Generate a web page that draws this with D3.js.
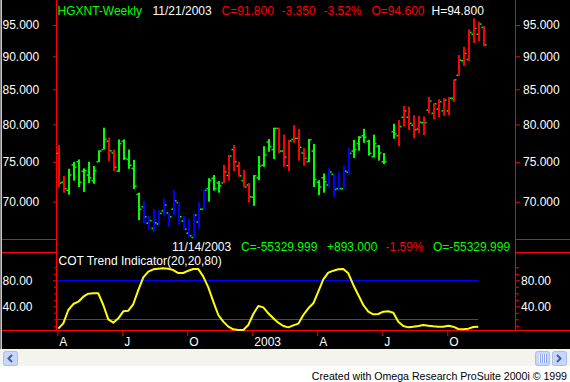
<!DOCTYPE html>
<html><head><meta charset="utf-8">
<script src="https://cdn.jsdelivr.net/npm/d3@7"></script>
<style>
html,body{margin:0;padding:0;background:#000;overflow:hidden}
svg{display:block}
text{font-family:"Liberation Sans",Arial,sans-serif}
</style>
</head><body>
<svg id="c" width="570" height="382"></svg>
<script>
// ---------------- DATA ----------------
const symbol = "HGXNT-Weekly";
const firstWeek = "2002-04-05";
const lastWeek = "2003-11-21";
// weekly OHLC (null = no bar that week)
const openP  = [76.1,72.4,71.4,74.6,75.0,73.8,73.3,72.6,75.0,76.6,77.7,76.15,73.8,77.7,75.3,74.15,70.9,69.4,67.45,66.85,67.35,68.9,68.65,69.1,69.9,67.7,66.3,65.8,67.6,69.1,71.6,72.9,72.3,72.3,73.25,76.6,74.45,72.6,72.05,70.55,72.95,74.55,77.6,76.6,79.45,76.4,74.5,77.95,78.1,76.15,75.0,76.4,72.4,72.95,72.05,73.4,71.6,71.6,73.65,76.4,77.4,78.45,77.7,75.65,77.05,75.0,null,79.0,78.45,81.0,81.0,79.9,79.35,80.25,82.0,81.55,82.15,81.9,81.9,83.7,87.1,89.3,89.5,93.5,93.5,94.6];
const highP  = [77.2,73.2,74.1,75.0,75.3,74.15,75.0,74.45,76.5,79.55,78.2,76.6,77.95,77.95,76.6,75.25,71.1,70.1,68.3,69.1,69.0,70.4,68.7,71.4,69.9,68.3,67.95,68.6,69.95,71.5,72.9,73.3,72.55,74.6,75.9,77.2,75.0,73.95,72.3,73.3,75.75,77.05,78.0,79.55,79.55,78.6,77.9,79.9,79.4,76.8,78.0,77.35,72.65,73.5,74.15,73.4,73.7,74.5,76.85,77.9,78.4,79.4,77.9,78.6,77.2,76.15,null,80.1,80.6,82.6,82.5,81.3,81.2,81.1,83.9,83.0,83.55,83.7,83.9,86.5,90.2,91.5,94.3,96.1,95.55,94.8];
const lowP   = [71.8,71.1,70.85,72.6,71.8,71.2,72.3,72.2,74.95,76.6,75.1,73.8,73.7,75.25,74.1,71.55,67.8,67.45,66.65,66.45,67.2,68.3,67.05,68.4,67.3,66.65,65.85,65.7,66.8,69.1,70.0,71.35,71.1,72.3,72.6,73.8,73.1,71.75,69.9,69.5,72.65,74.35,76.3,75.35,76.1,74.35,73.8,77.5,75.15,74.5,74.95,71.8,70.8,71.1,71.8,70.6,71.35,71.6,73.4,75.5,76.45,77.5,75.8,75.6,75.15,74.7,null,78.05,77.05,79.7,79.25,78.1,78.8,78.55,81.55,80.7,81.0,81.2,81.3,83.2,87.0,88.5,89.3,92.1,92.4,91.6];
const closeP = [72.3,71.6,73.3,74.3,72.4,73.85,72.95,73.85,76.4,78.0,76.45,74.3,77.4,75.45,74.55,71.9,69.1,68.2,67.75,67.5,68.6,69.6,68.2,70.1,68.2,66.75,66.0,68.4,69.1,71.4,72.65,71.6,71.95,73.7,75.75,75.0,73.2,71.8,70.6,73.2,74.45,75.9,77.0,79.45,76.4,75.6,77.75,78.1,76.9,75.45,77.9,72.75,71.8,72.45,73.7,71.5,71.6,73.8,76.1,76.6,78.25,78.25,76.1,77.4,76.15,75.0,null,78.7,79.7,81.9,80.15,79.25,80.3,80.25,83.3,82.9,83.2,83.45,83.7,86.4,89.4,90.45,93.8,94.45,95.15,91.8];
// bar paint: g = green, r = red, b = blue
const barPaint = ["r","r","g","g","g","g","g","g","g","g","r","r","g","g","g","g","g","b","b","b","b","b","b","b","b","b","b","b","b","b","g","g","g","r","r","r","r","r","r","g","g","g","g","g","r","r","r","r","r","r","g","g","g","g","b","b","b","b","b","g","g","g","g","g","g","g","","g","r","r","r","r","r","r","r","r","r","r","r","r","r","r","r","r","r","r"];
// COT Trend Indicator(20,20,80)
const cotTrend = [5.6,13.8,34.3,43.5,47.1,54.8,59.4,60,60,42,20,14.8,21.5,32.3,33.3,43.5,65,84.6,93.3,96.9,97.9,98.4,97.9,95.8,91.2,91.2,94.8,97.4,97.4,85.6,69.2,47.1,26.6,16.4,8.7,4.6,3.5,3.5,11.2,28.2,40.5,38.4,29.2,21.5,14.8,9.7,7.6,10.7,13.3,26.6,36.9,44.6,62.6,81.5,91.7,94.8,96.9,97.4,90.7,72.8,57.4,42,31.7,27.6,28.2,31.7,32.3,30.2,16.4,9.7,7.6,8.6,9.7,11.2,10.2,9.2,8.6,8.6,10.2,8.6,5.1,4.6,5.6,8.2,8.6,null];
const cotUpper = 80, cotLower = 20;
const priceTicks = [70,75,80,85,90,95];
const cotTicks = [40,80];
const cotMinor = [10,20,30,50,60,70,90,100];
const monthTickDates = ["2002-04-05","2002-07-05","2002-10-04","2003-01-03","2003-04-04","2003-07-04","2003-10-03"];
const monthTickLabels = ["A","J","O","2003","A","J","O"];
const header1 = [["HGXNT-Weekly","g"],["11/21/2003","w"],["C=91.800","r"],["-3.350","r"],["-3.52%","r"],["O=94.600","r"],["H=94.800","w"]];
const header2 = [["11/14/2003","w"],["C=-55329.999","g"],["+893.000","g"],["-1.59%","r"],["O=-55329.999","g"]];
const indicatorName = "COT Trend Indicator(20,20,80)";
const footer = "Created with Omega Research ProSuite 2000i \u00A9 1999";

// ---------------- DRAW ----------------
const pal = {g:"#00ff00", r:"#ff0000", b:"#0000ff", w:"#ffffff"};
const RED = "#ff0000";
const W = 570, H = 382;
const L = 56, R = 515;            // panel axis columns
const svg = d3.select("#c");
svg.append("rect").attr("width", W).attr("height", H).attr("fill", "#000");

const parse = d3.utcParse("%Y-%m-%d");
const dates = d3.utcFriday.range(parse(firstWeek), d3.utcDay.offset(parse(lastWeek), 1));
const x = d3.scaleUtc().domain([parse(firstWeek), parse(lastWeek)]).range([58.3, 483.3]);
const yP = d3.scaleLog().domain([70, 95]).range([201.7, 25]);
const yI = d3.scaleLinear().domain([0, 80]).range([332.3, 280.3]);

// frame lines
svg.append("rect").attr("x",0).attr("y",0).attr("width",1).attr("height",350).attr("fill","#808080");
svg.append("rect").attr("x",1).attr("y",0).attr("width",1).attr("height",350).attr("fill","#c8c8c8");
const lines = svg.append("g").attr("stroke", RED).attr("stroke-width", 1);
lines.append("line").attr("x1", L+0.5).attr("x2", L+0.5).attr("y1", 0).attr("y2", 331);
lines.append("line").attr("x1", R+0.5).attr("x2", R+0.5).attr("y1", 0).attr("y2", 331);
[239.5, 252.5].forEach(yy => {
  lines.append("line").attr("x1", 2).attr("x2", L).attr("y1", yy).attr("y2", yy);
  lines.append("line").attr("x1", R+1).attr("x2", W).attr("y1", yy).attr("y2", yy);
});
lines.append("line").attr("x1", 2).attr("x2", W).attr("y1", 330.5).attr("y2", 330.5);

// price axes
function styleAxis(g) {
  g.select(".domain").remove();
  g.selectAll(".tick line").attr("stroke", RED);
  g.selectAll(".tick text").attr("fill", "#fff").attr("font-size", 12)
    .attr("font-family", '"Liberation Sans",Arial,sans-serif')
    .attr("text-anchor", "start");
}
const fmt3 = d3.format(".3f"), fmt2 = d3.format(".2f");
const axL = svg.append("g").attr("transform", `translate(${L+1},0)`)
  .call(d3.axisLeft(yP).tickValues(priceTicks).tickFormat(fmt3).tickSize(4));
styleAxis(axL); axL.selectAll(".tick text").attr("x", 2.5 - (L+1));
const axR = svg.append("g").attr("transform", `translate(${R+1},0)`)
  .call(d3.axisRight(yP).tickValues(priceTicks).tickFormat(fmt3).tickSize(4));
styleAxis(axR); axR.selectAll(".tick text").attr("x", 7);

// indicator axes
const iaL = svg.append("g").attr("transform", `translate(${L+1},0)`)
  .call(d3.axisLeft(yI).tickValues(cotTicks).tickFormat(fmt2).tickSize(4));
styleAxis(iaL); iaL.selectAll(".tick text").attr("x", 2.5 - (L+1));
const iaLm = svg.append("g").attr("transform", `translate(${L+1},0)`)
  .call(d3.axisLeft(yI).tickValues(cotMinor).tickFormat("").tickSize(3));
styleAxis(iaLm);
const iaR = svg.append("g").attr("transform", `translate(${R+1},0)`)
  .call(d3.axisRight(yI).tickValues(cotTicks).tickFormat(fmt2).tickSize(4));
styleAxis(iaR); iaR.selectAll(".tick text").attr("x", 5);
const iaRm = svg.append("g").attr("transform", `translate(${R+1},0)`)
  .call(d3.axisRight(yI).tickValues(cotMinor).tickFormat("").tickSize(3));
styleAxis(iaRm);

// time axis
const ax = svg.append("g").attr("transform", "translate(0,331)")
  .call(d3.axisBottom(x).tickValues(monthTickDates.map(parse)).tickFormat((d,i)=>monthTickLabels[i]).tickSize(5));
ax.select(".domain").remove();
ax.selectAll(".tick line").attr("stroke", RED).attr("transform","translate(-1,0)");
ax.selectAll(".tick text").attr("fill","#fff").attr("font-size",12)
  .attr("font-family", '"Liberation Sans",Arial,sans-serif')
  .attr("text-anchor","start").attr("x", 0.5).attr("y", 6).attr("dy", "0.71em");

// OHLC bars
const bars = dates.map((d,i)=>({d, o:openP[i], h:highP[i], l:lowP[i], c:closeP[i], p:barPaint[i]}))
  .filter(b => b.h != null);
const gb = svg.append("g");
gb.selectAll(".hl").data(bars).join("rect")
  .attr("x", b => Math.floor(x(b.d))).attr("width", 2)
  .attr("y", b => yP(b.h)).attr("height", b => yP(b.l) - yP(b.h))
  .attr("fill", b => pal[b.p]);
gb.selectAll(".op").data(bars).join("rect")
  .attr("x", b => Math.floor(x(b.d)) - 1.5).attr("width", 1.5)
  .attr("y", b => yP(b.o) - 0.75).attr("height", 1.5).attr("fill", pal.g);
gb.selectAll(".cl").data(bars).join("rect")
  .attr("x", b => Math.floor(x(b.d)) + 2).attr("width", 1.5)
  .attr("y", b => yP(b.c) - 0.75).attr("height", 1.5).attr("fill", pal.g);

// indicator reference lines and curve
const cot = dates.map((d,i)=>({d, v:cotTrend[i]})).filter(p => p.v != null);
const xEnd = x(cot[cot.length-1].d);
svg.append("line").attr("x1", L+1).attr("x2", xEnd).attr("y1", Math.round(yI(cotUpper))+0.5).attr("y2", Math.round(yI(cotUpper))+0.5)
  .attr("stroke", pal.b).attr("stroke-width", 1);
svg.append("line").attr("x1", L+1).attr("x2", xEnd).attr("y1", Math.round(yI(cotLower))+0.5).attr("y2", Math.round(yI(cotLower))+0.5)
  .attr("stroke", RED).attr("stroke-width", 1);
svg.append("path").datum(cot)
  .attr("d", d3.line().x(p => x(p.d)).y(p => yI(p.v)))
  .attr("fill","none").attr("stroke","#ffff00").attr("stroke-width",2).attr("stroke-linejoin","round");

// header texts
const hx1 = [57.5, 152.5, 221.5, 281.5, 323.5, 371.5, 431.5];
svg.append("g").selectAll("text").data(header1).join("text")
  .attr("x", (d,i)=>hx1[i]).attr("y", 14.5).attr("font-size", 12)
  .attr("fill", d => pal[d[1]]).text(d => d[0]);
const hx2 = [172, 241, 327, 385.5, 433];
svg.append("g").selectAll("text").data(header2).join("text")
  .attr("x", (d,i)=>hx2[i]).attr("y", 250.5).attr("font-size", 12)
  .attr("fill", d => pal[d[1]]).text(d => d[0]);
svg.append("text").attr("x", 58.5).attr("y", 264.5).attr("font-size", 12).attr("fill", "#fff").text(indicatorName);

// scrollbar + footer
svg.append("rect").attr("x",0).attr("y",349).attr("width",W).attr("height",18).attr("fill","#f4f3ee");
svg.append("rect").attr("x",0).attr("y",366).attr("width",W).attr("height",16).attr("fill","#ffffff");
function button(x0) {
  svg.append("rect").attr("x",x0+0.5).attr("y",351.5).attr("width",14).attr("height",14).attr("rx",2)
    .attr("fill","#c7d6fb").attr("stroke","#a8bdf0");
}
button(3); button(535); button(552);
svg.append("path").attr("d","M12,355 L8.5,358.5 L12,362").attr("fill","none").attr("stroke","#4d6185").attr("stroke-width",2);
svg.append("path").attr("d","M557,355 L560.5,358.5 L557,362").attr("fill","none").attr("stroke","#4d6185").attr("stroke-width",2);
[539.5,541.5,543.5,545.5].forEach(xx => svg.append("line").attr("x1",xx).attr("x2",xx).attr("y1",354).attr("y2",363).attr("stroke","#eef3ff"));
[540.5,542.5,544.5,546.5].forEach(xx => svg.append("line").attr("x1",xx).attr("x2",xx).attr("y1",354).attr("y2",363).attr("stroke","#8ca6e6"));
svg.append("text").attr("x", 567).attr("y", 379.5).attr("text-anchor","end").attr("font-size", 10.6)
  .attr("fill","#000").text(footer);
</script>
</body></html>
